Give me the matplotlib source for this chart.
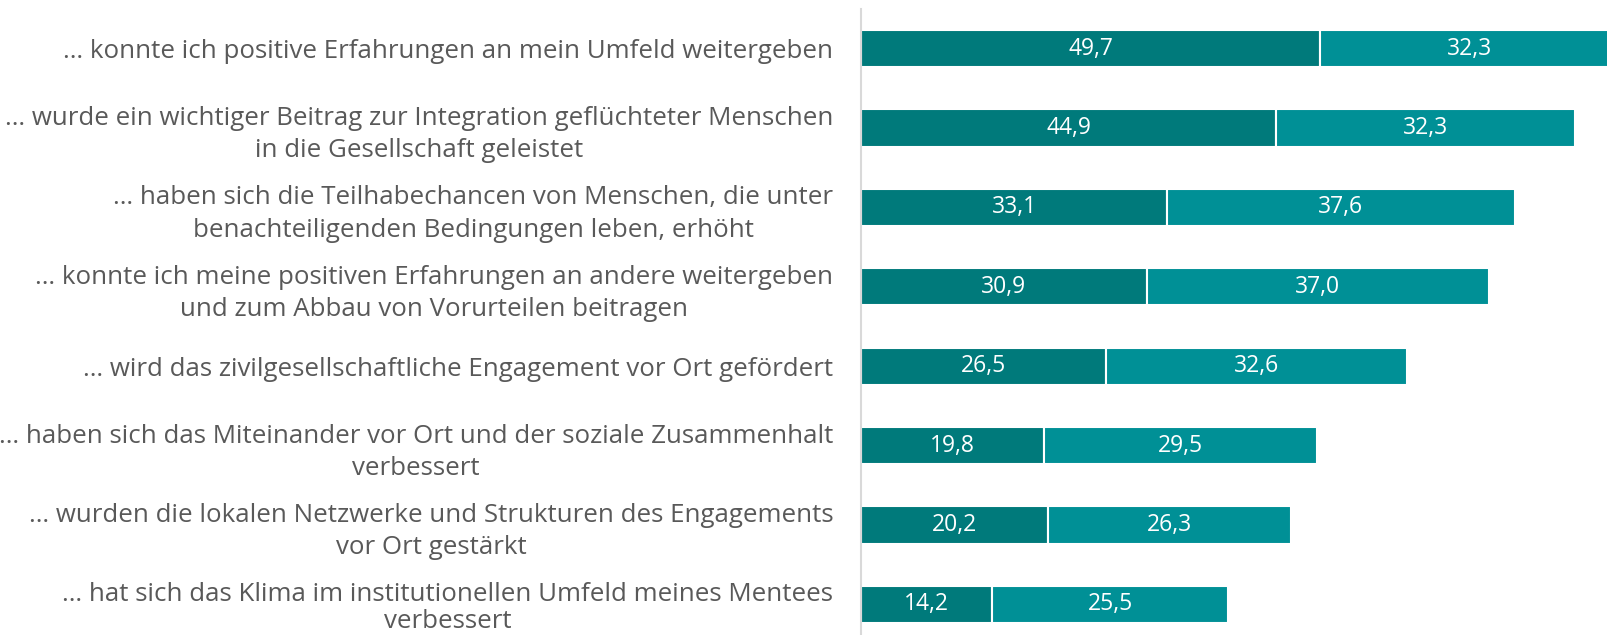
import matplotlib.pyplot as plt

labels = [
    "… konnte ich positive Erfahrungen an mein Umfeld weitergeben",
    "… wurde ein wichtiger Beitrag zur Integration geflüchteter Menschen\nin die Gesellschaft geleistet",
    "… haben sich die Teilhabechancen von Menschen, die unter\nbenachteiligenden Bedingungen leben, erhöht",
    "… konnte ich meine positiven Erfahrungen an andere weitergeben\nund zum Abbau von Vorurteilen beitragen",
    "… wird das zivilgesellschaftliche Engagement vor Ort gefördert",
    "… haben sich das Miteinander vor Ort und der soziale Zusammenhalt\nverbessert",
    "… wurden die lokalen Netzwerke und Strukturen des Engagements\nvor Ort gestärkt",
    "… hat sich das Klima im institutionellen Umfeld meines Mentees\nverbessert",
]
trifft_voll = [49.7, 44.9, 33.1, 30.9, 26.5, 19.8, 20.2, 14.2]
trifft_eher = [32.3, 32.3, 37.6, 37.0, 32.6, 29.5, 26.3, 25.5]

dark = "#007A7B"
light = "#009096"

plt.rcParams['font.family'] = ['Open Sans', 'DejaVu Sans']

fig = plt.figure(figsize=(16.08, 6.35), dpi=100)
ax = fig.add_axes([861/1608, -9/635, 1 - 861/1608, 1.0])

y = list(range(len(labels)))
ax.barh(y, trifft_voll, height=0.47, color=dark, edgecolor="white", linewidth=1.5)
ax.barh(y, trifft_eher, left=trifft_voll, height=0.47, color=light, edgecolor="white", linewidth=1.5)

for i in y:
    ax.text(trifft_voll[i] / 2, i, f"{trifft_voll[i]:.1f}".replace(".", ","),
            ha="center", va="center", color="white", fontsize=16.5)
    ax.text(trifft_voll[i] + trifft_eher[i] / 2, i, f"{trifft_eher[i]:.1f}".replace(".", ","),
            ha="center", va="center", color="white", fontsize=16.5)

ax.set_xlim(0, 80.8)
ax.set_ylim(len(labels) - 0.5, -0.5)
ax.set_yticks(y)
ticklabels = ax.set_yticklabels(labels, fontsize=18.6, color="#595959",
                                multialignment="center", linespacing=1.38)
# last label sits at the lower edge, squeeze it a little
ticklabels[-1].set_linespacing(1.1)
ax.tick_params(axis="y", length=0, pad=20)
ax.set_xticks([])
for s in ["top", "right", "bottom"]:
    ax.spines[s].set_visible(False)
ax.spines["left"].set_color("#D9D9D9")
ax.spines["left"].set_linewidth(1.5)

fig.savefig("out.png", dpi=100)
